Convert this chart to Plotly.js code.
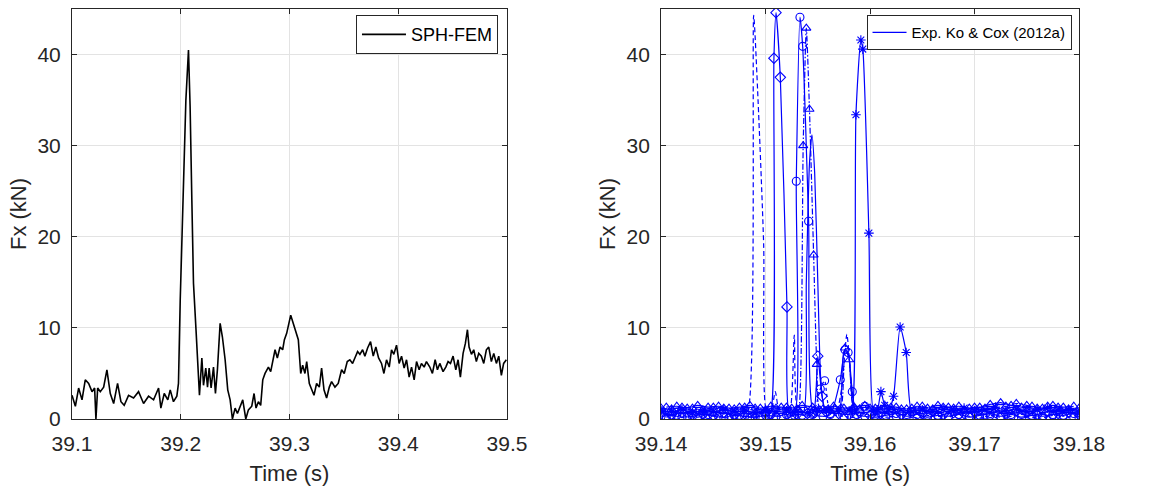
<!DOCTYPE html>
<html>
<head>
<meta charset="utf-8">
<script src="https://cdn.plot.ly/plotly-3.0.1.min.js"></script>
<style>
  html, body { margin: 0; padding: 0; background: #ffffff; }
  #chart { width: 1154px; height: 491px; }
</style>
</head>
<body>
<div id="chart"></div>
<script>
// ---- SPH-FEM horizontal force history (left panel) ----
const simTime = [
  39.1000, 39.1031, 39.1061, 39.1092, 39.1122, 39.1153, 39.1184, 39.1208, 39.1220, 39.1236,
  39.1260, 39.1291, 39.1321, 39.1352, 39.1383, 39.1419, 39.1450, 39.1480, 39.1520, 39.1566,
  39.1612, 39.1658, 39.1704, 39.1750, 39.1796, 39.1817, 39.1848, 39.1881, 39.1903, 39.1933,
  39.1964, 39.1979, 39.1995, 39.2019, 39.2047, 39.2071, 39.2086, 39.2102, 39.2117, 39.2142,
  39.2157, 39.2172, 39.2194, 39.2209, 39.2230, 39.2246, 39.2261, 39.2279, 39.2301, 39.2319,
  39.2337, 39.2362, 39.2383, 39.2408, 39.2432, 39.2454, 39.2475, 39.2500, 39.2521, 39.2546,
  39.2570, 39.2598, 39.2622, 39.2653, 39.2674, 39.2692, 39.2714, 39.2735, 39.2754, 39.2775,
  39.2806, 39.2827, 39.2846, 39.2867, 39.2888, 39.2913, 39.2937, 39.2953, 39.2974, 39.2992,
  39.3011, 39.3029, 39.3050, 39.3081, 39.3103, 39.3121, 39.3142, 39.3158, 39.3182, 39.3204,
  39.3225, 39.3249, 39.3274, 39.3295, 39.3317, 39.3341, 39.3366, 39.3387, 39.3418, 39.3448,
  39.3479, 39.3503, 39.3531, 39.3555, 39.3580, 39.3601, 39.3626, 39.3647, 39.3672, 39.3693,
  39.3718, 39.3745, 39.3770, 39.3794, 39.3819, 39.3846, 39.3868, 39.3892, 39.3917, 39.3938,
  39.3959, 39.3984, 39.4008, 39.4030, 39.4054, 39.4076, 39.4100, 39.4122, 39.4146, 39.4168,
  39.4192, 39.4213, 39.4238, 39.4259, 39.4290, 39.4314, 39.4339, 39.4360, 39.4382, 39.4412,
  39.4437, 39.4458, 39.4480, 39.4504, 39.4529, 39.4550, 39.4571, 39.4596, 39.4617, 39.4636,
  39.4651, 39.4673, 39.4694, 39.4718, 39.4740, 39.4764, 39.4786, 39.4810, 39.4832, 39.4856,
  39.4878, 39.4902, 39.4924, 39.4948, 39.4969, 39.4994
];
const simForce = [
  2.6, 1.4, 3.4, 2.1, 4.3, 3.9, 3.0, 3.4, 0.0, 3.4,
  3.0, 3.5, 5.4, 2.8, 1.7, 3.9, 1.9, 1.5, 2.6, 2.3,
  3.0, 1.7, 2.5, 2.1, 3.4, 1.2, 2.8, 2.1, 3.2, 1.9,
  2.5, 3.9, 13.0, 24.0, 35.0, 40.5, 34.3, 24.0, 14.9, 9.4,
  5.7, 2.6, 6.7, 3.7, 5.6, 3.5, 5.6, 3.4, 5.7, 2.8,
  5.4, 10.5, 9.0, 6.5, 3.2, 2.1, 0.0, 1.2, 0.6, 1.4,
  2.1, 0.0, 1.0, 1.4, 2.8, 1.2, 1.9, 1.5, 4.3, 5.0,
  5.7, 5.2, 6.5, 7.6, 6.7, 7.9, 7.6, 8.7, 9.4, 10.5,
  11.4, 10.7, 9.8, 8.7, 5.0, 5.9, 5.0, 6.3, 3.9, 3.2,
  2.6, 3.9, 3.5, 5.6, 3.2, 2.3, 3.5, 4.1, 3.5, 3.9,
  5.4, 5.0, 6.3, 6.5, 6.1, 6.7, 7.4, 7.1, 7.6, 6.9,
  7.8, 8.5, 6.9, 7.9, 6.7, 6.1, 5.0, 6.5, 5.7, 7.6,
  7.1, 8.1, 6.1, 6.9, 5.6, 6.5, 4.6, 5.7, 4.3, 6.3,
  5.4, 6.1, 5.7, 6.3, 5.7, 5.0, 6.5, 5.4, 6.1, 5.2,
  5.7, 6.3, 6.1, 6.9, 5.4, 6.5, 4.6, 7.2, 8.3, 9.8,
  7.9, 7.1, 7.6, 6.3, 7.2, 6.9, 6.1, 7.6, 7.9, 6.3,
  7.2, 6.1, 6.9, 4.8, 6.1, 6.5
];

// ---- Experimental repeats, Ko & Cox (2012a) (right panel) ----
// run A: dashed
const expTimeA = [
  39.1400, 39.1410, 39.1420, 39.1430, 39.1440, 39.1450, 39.1460, 39.1470, 39.1478, 39.1483,
  39.14886, 39.14928, 39.14982, 39.15007, 39.1505, 39.15093, 39.1513, 39.1518, 39.1523, 39.15275,
  39.1531, 39.1540, 39.1550, 39.1560, 39.1568, 39.1573, 39.15778, 39.1582, 39.1586, 39.1595,
  39.1605, 39.1615, 39.1625, 39.1635, 39.1645, 39.1655, 39.1665, 39.1675, 39.1685, 39.1695,
  39.1705, 39.1715, 39.1725, 39.1735, 39.1745, 39.1755, 39.1765, 39.1775, 39.1785, 39.1795,
  39.1800
];
const expForceA = [
  0.8, 1.0, 0.7, 0.9, 0.8, 1.0, 0.7, 0.9, 0.8, 0.9,
  44.3, 35.0, 19.0, 1.0, 0.8, 3.0, 0.9, 0.7, 0.8, 9.2,
  0.9, 0.7, 0.8, 0.6, 0.9, 3.5, 9.3, 4.0, 0.8, 0.7,
  0.9, 0.6, 1.0, 0.8, 0.7, 0.9, 1.1, 0.8, 1.0, 0.7,
  0.9, 1.2, 0.8, 1.0, 0.9, 0.7, 1.1, 0.8, 1.0, 0.7,
  0.9
];
// run B: solid, diamonds
const expTimeB = [
  39.1400, 39.1410, 39.1420, 39.1430, 39.1440, 39.1450, 39.1460, 39.1470, 39.1480, 39.1490,
  39.1500, 39.15045, 39.1508, 39.1510, 39.15141, 39.15205, 39.15227, 39.1530, 39.1540, 39.1546,
  39.1550, 39.1554, 39.1558, 39.1570, 39.1580, 39.1590, 39.1600, 39.1610, 39.1620,
  39.1630, 39.1640, 39.1650, 39.1660, 39.1670, 39.1680, 39.1690, 39.1700, 39.1710, 39.1720,
  39.1730, 39.1740, 39.1750, 39.1760, 39.1770, 39.1780, 39.1790, 39.1800
];
const expForceB = [
  0.6, 0.5, 0.7, 0.5, 0.6, 0.4, 0.7, 0.5, 0.6, 0.5,
  0.7, 0.6, 39.6, 44.6, 37.5, 12.3, 0.7, 0.5, 0.6, 0.8,
  6.9, 2.5, 0.8, 0.6, 0.5, 0.7, 0.4, 0.6, 0.8,
  0.5, 0.7, 0.6, 0.9, 0.5, 0.7, 0.6, 0.8, 0.5, 0.7,
  0.6, 0.9, 0.7, 0.5, 0.8, 0.6, 0.7, 0.5
];
// run C: solid, circles
const expTimeC = [
  39.1400, 39.1410, 39.1420, 39.1430, 39.1440, 39.1450, 39.1460, 39.1470, 39.1480, 39.1490,
  39.1500, 39.1510, 39.1520, 39.15275, 39.15294, 39.15329, 39.15355, 39.15412, 39.1546, 39.1555,
  39.1562, 39.15715, 39.1576, 39.1579, 39.1583, 39.1587, 39.1595, 39.1605, 39.1615, 39.1625,
  39.1635, 39.1645, 39.1655, 39.1665, 39.1675, 39.1685, 39.1695, 39.1705, 39.1715, 39.1725,
  39.1735, 39.1745, 39.1755, 39.1765, 39.1775, 39.1785, 39.1795, 39.1800
];
const expForceC = [
  0.3, 0.4, 0.2, 0.3, 0.5, 0.3, 0.2, 0.4, 0.3, 0.2,
  0.4, 0.3, 0.5, 0.4, 26.1, 44.1, 40.9, 21.7, 0.6, 0.3,
  0.5, 4.3, 7.6, 7.3, 3.0, 0.5, 0.3, 0.2, 0.4, 0.6,
  0.3, 0.5, 0.2, 0.4, 0.3, 0.5, 0.2, 0.4, 0.6, 0.3,
  0.5, 0.2, 0.4, 0.3, 0.5, 0.4, 0.6, 0.2
];
// run D: dash-dot, triangles
const expTimeD = [
  39.1400, 39.1410, 39.1420, 39.1430, 39.1440, 39.1450, 39.1460, 39.1470, 39.1480, 39.1490,
  39.1500, 39.1510, 39.1520, 39.1530, 39.15316, 39.1536, 39.1539, 39.1542, 39.1546, 39.1549,
  39.1552, 39.1560, 39.1566, 39.1572, 39.1576, 39.1580, 39.1584, 39.1590, 39.1600, 39.1610,
  39.1620, 39.1630, 39.1640, 39.1650, 39.1660, 39.1670, 39.1680, 39.1690, 39.1700, 39.1710,
  39.1720, 39.1730, 39.1740, 39.1750, 39.1760, 39.1770, 39.1780, 39.1790, 39.1800
];
const expForceD = [
  1.2, 1.1, 1.3, 1.2, 1.0, 1.3, 1.2, 1.1, 1.3, 1.2,
  1.0, 1.2, 1.3, 1.1, 1.0, 30.0, 42.9, 34.0, 18.0, 6.0,
  1.0, 1.1, 1.2, 1.2, 7.8, 6.5, 1.3, 1.1, 1.2, 1.0,
  1.3, 1.1, 1.2, 1.4, 1.1, 1.3, 1.2, 1.0, 1.3, 1.2,
  1.1, 1.4, 1.7, 1.5, 1.2, 1.4, 1.3, 1.1, 1.2
];
// run E: solid, no markers
const expTimeE = [
  39.1400, 39.1410, 39.1420, 39.1430, 39.1440, 39.1450, 39.1460, 39.1470, 39.1480, 39.1490,
  39.1500, 39.1510, 39.1520, 39.1530, 39.15364, 39.1539, 39.1542, 39.15444, 39.1547, 39.1550,
  39.1553, 39.1557, 39.1565, 39.1571, 39.1575, 39.1579, 39.1583, 39.1587, 39.1595, 39.1605,
  39.1615, 39.1625, 39.1635, 39.1645, 39.1655, 39.1665, 39.1675, 39.1685, 39.1695, 39.1705,
  39.1715, 39.1725, 39.1735, 39.1745, 39.1755, 39.1765, 39.1775, 39.1785, 39.1795, 39.1800
];
const expForceE = [
  0.7, 0.8, 0.6, 0.9, 0.7, 0.8, 0.6, 0.7, 0.9, 0.7,
  0.8, 0.6, 0.7, 0.8, 0.8, 15.0, 28.0, 31.2, 27.0, 15.0,
  4.0, 0.9, 0.7, 1.0, 7.4, 7.2, 2.0, 0.8, 0.7, 0.9,
  0.6, 0.8, 0.7, 1.0, 0.8, 0.6, 0.9, 0.7, 0.8, 1.0,
  0.7, 0.9, 0.6, 0.8, 1.1, 0.7, 0.9, 0.8, 0.6, 0.8
];
// run F: solid, asterisks
const expTimeF = [
  39.1400, 39.1410, 39.1420, 39.1430, 39.1440, 39.1450, 39.1460, 39.1470, 39.1480, 39.1490,
  39.1500, 39.1510, 39.1520, 39.1530, 39.1540, 39.1550, 39.1560, 39.1570, 39.1580, 39.15826,
  39.15865, 39.15912, 39.15931, 39.15989, 39.16033, 39.1607, 39.16104, 39.1614, 39.1618, 39.16225,
  39.16288, 39.16346, 39.1640, 39.1650, 39.1660, 39.1670, 39.1680, 39.1690, 39.1700, 39.1710,
  39.1720, 39.1730, 39.1740, 39.1750, 39.1760, 39.1770, 39.1780, 39.1790, 39.1800
];
const expForceF = [
  0.9, 0.8, 1.0, 0.7, 0.9, 0.8, 1.0, 0.8, 0.9, 0.7,
  1.0, 0.8, 0.9, 0.8, 0.7, 0.9, 1.0, 0.8, 0.9, 0.8,
  33.4, 41.6, 40.6, 20.4, 0.9, 1.0, 3.0, 1.5, 1.0, 2.5,
  10.1, 7.3, 0.8, 1.0, 0.8, 1.1, 0.9, 1.2, 0.8, 1.0,
  1.3, 0.9, 1.1, 0.8, 1.0, 1.2, 0.9, 1.0, 0.8
];
// run G: dotted, circles (stays near the floor)
const expTimeG = [
  39.1405, 39.1415, 39.1425, 39.1435, 39.1445, 39.1455, 39.1465, 39.1475, 39.1485, 39.1495,
  39.1505, 39.1515, 39.1525, 39.1535, 39.1545, 39.15524, 39.15565, 39.1562, 39.1575, 39.1585,
  39.1595, 39.1605, 39.1615, 39.1625, 39.1635, 39.1645, 39.1655, 39.1665, 39.1675, 39.1685,
  39.1695, 39.1705, 39.1715, 39.1725, 39.1735, 39.1745, 39.1755, 39.1765, 39.1775, 39.1785,
  39.1795
];
const expForceG = [
  0.2, 0.4, 0.3, 0.2, 0.5, 0.3, 0.1, 0.4, 0.2, 0.3,
  0.5, 0.2, 0.3, 0.4, 0.5, 3.3, 4.2, 0.6, 0.3, 0.2,
  1.4, 0.4, 0.2, 0.3, 0.5, 0.1, 0.4, 0.3, 0.2, 0.5,
  0.3, 0.1, 0.4, 0.2, 0.3, 0.5, 0.2, 0.1, 0.4, 0.3,
  0.2
];
// run H: solid, triangles (stays near the floor)
const expTimeH = [
  39.1405, 39.1415, 39.1425, 39.1435, 39.1445, 39.1455, 39.1465, 39.1475, 39.1485, 39.1495,
  39.1505, 39.1515, 39.1525, 39.1535, 39.1545, 39.1555, 39.1565, 39.1575, 39.1585, 39.1595,
  39.1605, 39.1615, 39.1625, 39.1635, 39.1645, 39.1655, 39.1665, 39.1675, 39.1685, 39.1695,
  39.1705, 39.1715, 39.1725, 39.1735, 39.1745, 39.1755, 39.1765, 39.1775, 39.1785, 39.1795
];
const expForceH = [
  1.3, 1.4, 1.2, 1.5, 1.3, 1.4, 1.2, 1.3, 1.5, 1.2,
  1.4, 1.3, 1.2, 1.5, 1.3, 1.1, 1.4, 1.2, 1.3, 1.5,
  1.2, 1.4, 1.3, 1.1, 1.4, 1.2, 1.5, 1.3, 1.4, 1.2,
  1.3, 1.6, 1.8, 1.5, 1.3, 1.4, 1.2, 1.5, 1.3, 1.4
];

const leftTicks = [39.1, 39.2, 39.3, 39.4, 39.5];
const rightTicks = [39.14, 39.15, 39.16, 39.17, 39.18];
const forceTicks = [0, 10, 20, 30, 40];

const FONT = 'Liberation Sans, Arial, Helvetica, sans-serif';
const INK = '#262626';
const BLUE = '#0000ff';

// Experimental runs: thin blue lines, rounded between samples, open markers at the samples.
function expTrace(x, y, dash, symbol, extra) {
  const t = {
    x: x, y: y, type: 'scatter', xaxis: 'x2', yaxis: 'y2',
    mode: symbol ? 'lines+markers' : 'lines',
    line: { color: BLUE, width: 1.2, dash: dash, shape: 'spline', smoothing: 0.6 },
    showlegend: false, legend: 'legend2', hoverinfo: 'skip', cliponaxis: true
  };
  if (symbol) {
    t.marker = { symbol: symbol, size: 8, color: BLUE, line: { color: BLUE, width: 1.1 } };
  }
  return Object.assign(t, extra || {});
}

const traces = [
  {
    x: simTime, y: simForce, type: 'scatter', mode: 'lines',
    name: 'SPH-FEM', xaxis: 'x', yaxis: 'y', legend: 'legend', showlegend: true,
    line: { color: '#000000', width: 1.6 }, hoverinfo: 'skip'
  },
  expTrace(expTimeG, expForceG, 'dot', 'circle-open'),
  expTrace(expTimeH, expForceH, 'solid', 'triangle-up-open'),
  expTrace(expTimeA, expForceA, '5px,3px', null),
  expTrace(expTimeB, expForceB, 'solid', 'diamond-open'),
  expTrace(expTimeC, expForceC, 'solid', 'circle-open'),
  expTrace(expTimeD, expForceD, '6px,2px,1.5px,2px', 'triangle-up-open'),
  expTrace(expTimeF, expForceF, 'solid', 'asterisk-open'),
  expTrace(expTimeE, expForceE, 'solid', null, { showlegend: true, name: 'Exp. Ko &amp; Cox (2012a)' })
];

function axisBase() {
  return {
    showline: true, mirror: 'ticks', linecolor: INK, linewidth: 1,
    ticks: 'inside', ticklen: 5, tickcolor: INK, tickwidth: 1,
    showgrid: true, gridcolor: '#e3e3e3', gridwidth: 1,
    zeroline: false, automargin: false,
    tickfont: { family: FONT, size: 21, color: INK }
  };
}

const xTitle = { text: 'Time (s)', font: { family: FONT, size: 22, color: INK }, standoff: 11 };
const yTitle = { text: 'Fx (kN)', font: { family: FONT, size: 22, color: INK }, standoff: 4 };

const layout = {
  width: 1154, height: 491,
  margin: { l: 72, r: 75, t: 9, b: 72 },
  paper_bgcolor: '#ffffff', plot_bgcolor: '#ffffff',
  font: { family: FONT, color: INK },
  showlegend: true,
  xaxis: Object.assign(axisBase(), {
    domain: [0, 0.432], range: [39.1, 39.5], tickvals: leftTicks, tickformat: '.1f',
    anchor: 'y', title: xTitle, ticklabelstandoff: 6
  }),
  yaxis: Object.assign(axisBase(), {
    domain: [0, 1], range: [0, 45], tickvals: forceTicks, anchor: 'x', title: yTitle,
    ticklabelstandoff: 6
  }),
  xaxis2: Object.assign(axisBase(), {
    domain: [0.585, 1], range: [39.14, 39.18], tickvals: rightTicks, tickformat: '.2f',
    anchor: 'y2', title: xTitle, ticklabelstandoff: 6
  }),
  yaxis2: Object.assign(axisBase(), {
    domain: [0, 1], range: [0, 45], tickvals: forceTicks, anchor: 'x2', title: yTitle,
    ticklabelstandoff: 6
  }),
  legend: {
    x: 0.282, y: 0.985, xanchor: 'left', yanchor: 'top',
    bgcolor: '#ffffff', bordercolor: INK, borderwidth: 1, itemwidth: 44,
    font: { family: FONT, size: 18, color: '#000000' }
  },
  legend2: {
    x: 0.789, y: 0.985, xanchor: 'left', yanchor: 'top',
    bgcolor: '#ffffff', bordercolor: INK, borderwidth: 1, itemwidth: 34,
    font: { family: FONT, size: 15, color: '#000000' }
  }
};

Plotly.newPlot('chart', traces, layout, { staticPlot: true, displayModeBar: false });
</script>
</body>
</html>
